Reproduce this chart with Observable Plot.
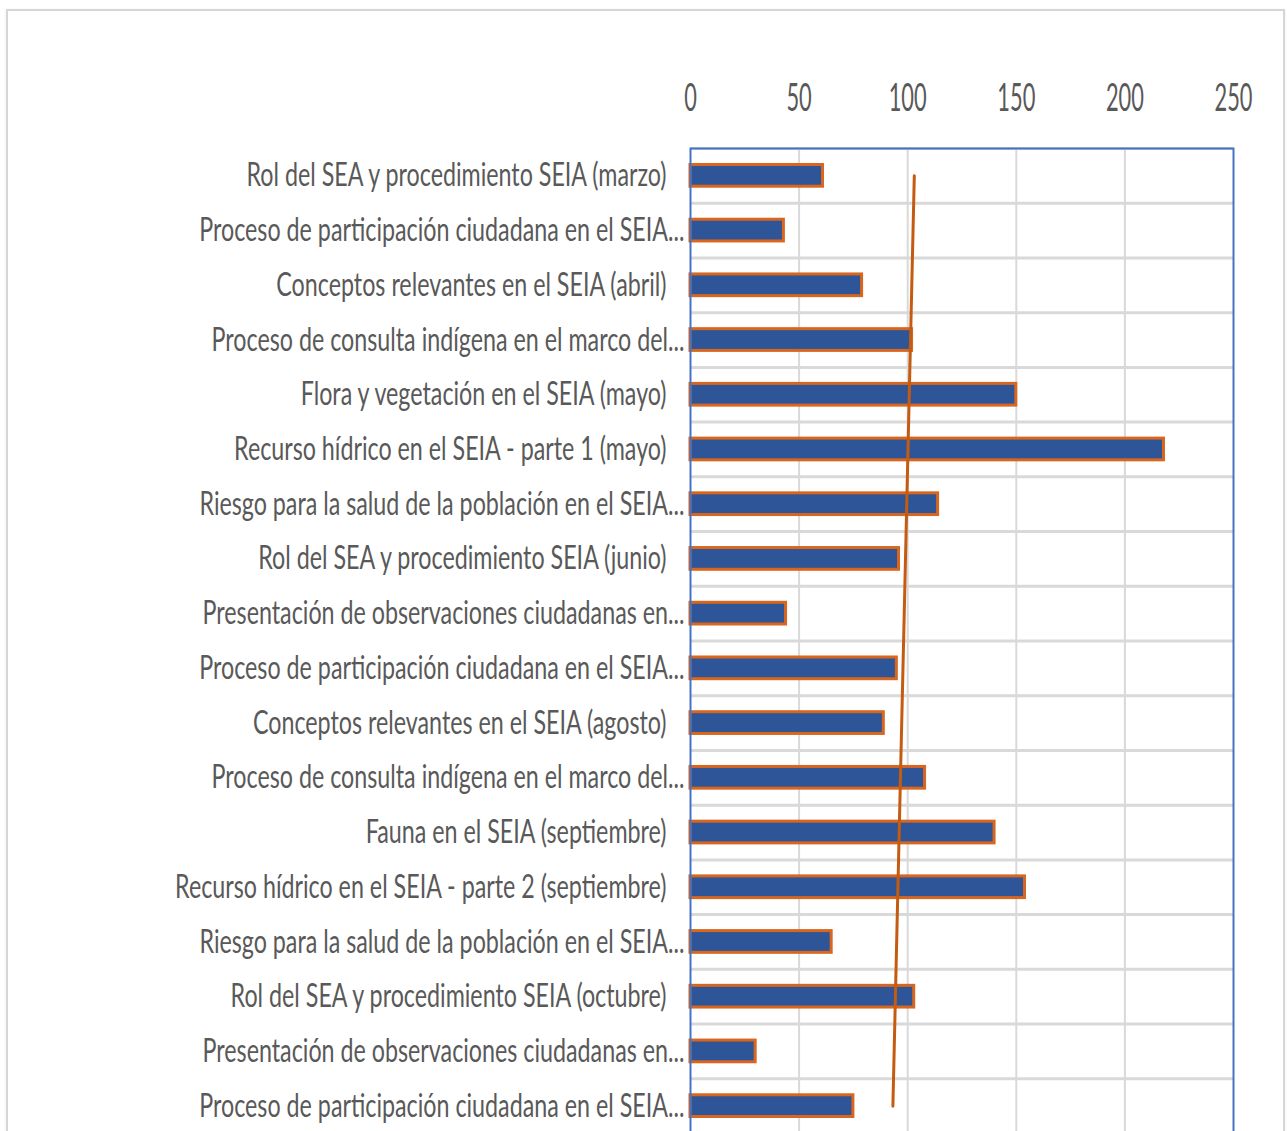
<!DOCTYPE html>
<html><head><meta charset="utf-8">
<script src="https://cdn.jsdelivr.net/npm/d3@7"></script>
<script src="https://cdn.jsdelivr.net/npm/@observablehq/plot@0.6"></script>
<style>
html,body{margin:0;padding:0;background:#fff;overflow:hidden;}
#border{position:absolute;left:6px;top:9px;width:1279px;height:1200px;border:2px solid #d6d6d6;border-bottom:none;box-sizing:border-box;box-shadow:0 1px 3px rgba(0,0,0,0.08);}
#chart{position:absolute;left:0;top:0;}
</style></head><body>
<div id="border"></div><div id="chart"></div>
<script>
const categories = [
  "Rol del SEA y procedimiento SEIA (marzo)",
  "Proceso de participación ciudadana en el SEIA...",
  "Conceptos relevantes en el SEIA (abril)",
  "Proceso de consulta indígena en el marco del...",
  "Flora y vegetación en el SEIA (mayo)",
  "Recurso hídrico en el SEIA - parte 1 (mayo)",
  "Riesgo para la salud de la población en el SEIA...",
  "Rol del SEA y procedimiento SEIA (junio)",
  "Presentación de observaciones ciudadanas en...",
  "Proceso de participación ciudadana en el SEIA...",
  "Conceptos relevantes en el SEIA (agosto)",
  "Proceso de consulta indígena en el marco del...",
  "Fauna en el SEIA (septiembre)",
  "Recurso hídrico en el SEIA - parte 2 (septiembre)",
  "Riesgo para la salud de la población en el SEIA...",
  "Rol del SEA y procedimiento SEIA (octubre)",
  "Presentación de observaciones ciudadanas en...",
  "Proceso de participación ciudadana en el SEIA..."
];
const values = [61, 43, 79, 102, 150, 218, 114, 96, 44, 95, 89, 108, 140, 154, 65, 103, 30, 75];
const xTicks = [0, 50, 100, 150, 200, 250];

const n = categories.length;
const rows = categories.map((c, i) => ({c, i, v: values[i], trunc: c.endsWith("...")}));
// linear trend line (least squares over category index)
const mi = d3.mean(rows, d => d.i), mv = d3.mean(values);
const slope = d3.sum(rows, d => (d.i - mi) * (d.v - mv)) / d3.sum(rows, d => (d.i - mi) ** 2);
const trend = rows.map(d => ({i: d.i, t: mv + slope * (d.i - mi)}));
const boundaries = d3.range(n + 1).map(k => k - 0.5);

const plot = Plot.plot({
  width: 1287, height: 1145,
  marginLeft: 690, marginRight: 54, marginTop: 148, marginBottom: 12,
  style: {fontFamily: "Lato, 'Open Sans', sans-serif", background: "transparent", overflow: "visible"},
  x: {domain: [0, 250]},
  y: {domain: [-0.5, n - 0.5], reverse: true, axis: null},
  marks: [
    Plot.ruleX(xTicks.slice(1, -1), {stroke: "#d9d9d9", strokeWidth: 2}),
    Plot.ruleY(boundaries, {stroke: "#d9d9d9", strokeWidth: 3}),
    Plot.rectX(rows, {x1: 0, x2: "v", y1: d => d.i - 0.5, y2: d => d.i + 0.5, insetTop: 16.5, insetBottom: 16.5,
      fill: "#2e5597", stroke: "#d8661f", strokeWidth: 3}),
    Plot.line(trend, {x: "t", y: "i", stroke: "#c55a11", strokeWidth: 3}),
    Plot.frame({stroke: "#4472c4", strokeWidth: 2}),
    Plot.axisX({anchor: "top", ticks: xTicks, tickSize: 0, tickPadding: 38, fontSize: 38, fill: "#595959", label: null}),
    Plot.text(rows.filter(d => !d.trunc), {y: "i", text: "c", frameAnchor: "left", textAnchor: "end", dx: -24,
      fontSize: 33, fill: "#595959"}),
    Plot.text(rows.filter(d => d.trunc), {y: "i", text: "c", frameAnchor: "left", textAnchor: "end", dx: -6,
      fontSize: 33, fill: "#595959"})
  ]
});
document.getElementById("chart").append(plot);

// condense glyphs horizontally (narrow font look of the original)
function condense(labels, refText, targetWidth) {
  const set = new Set(labels);
  const texts = Array.from(plot.querySelectorAll("text")).filter(t => set.has(t.textContent));
  if (!texts.length) return;
  const ref = texts.find(t => t.textContent === refText) || texts[0];
  const k = targetWidth / ref.getComputedTextLength();
  texts.forEach(t => {
    t.setAttribute("textLength", t.getComputedTextLength() * k);
    t.setAttribute("lengthAdjust", "spacingAndGlyphs");
  });
}
condense(categories, categories[0], 420);
condense(xTicks.map(String), "100", 38);
</script>
</body></html>
